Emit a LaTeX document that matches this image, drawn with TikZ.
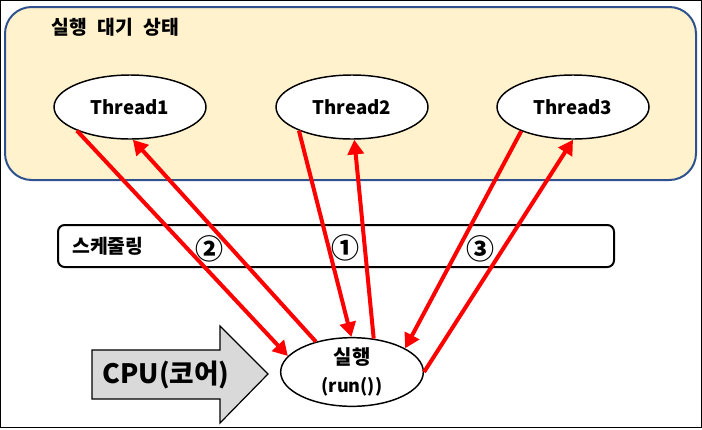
\documentclass[tikz,border=0pt]{standalone}
\usepackage{fontspec}
\setmainfont{Noto Sans CJK KR}
\usetikzlibrary{arrows.meta,positioning,shapes.geometric}
\definecolor{waitFill}{RGB}{255, 242, 204}
\definecolor{waitRule}{RGB}{47, 82, 143}
\definecolor{cpuGray}{RGB}{217, 217, 217}
\definecolor{flowRed}{RGB}{255, 0, 0}
\tikzset{
  waitbox/.style={draw=waitRule, fill=waitFill, line width=1.5pt, rounded corners=20pt},
  schedbox/.style={draw=black, line width=1.5pt, rounded corners=5pt},
  threadnode/.style={draw=black, fill=white, ellipse, line width=1.1pt, inner sep=0pt,
    minimum width=114pt, minimum height=48pt, font=\fontsize{14pt}{16pt}\selectfont\bfseries},
  runnode/.style={draw=black, fill=white, ellipse, line width=1.1pt, inner sep=0pt,
    minimum width=107pt, minimum height=48pt, align=center,
    font=\fontsize{13.5pt}{21pt}\selectfont\bfseries},
  titlelabel/.style={anchor=west, inner sep=0pt, font=\fontsize{14.5pt}{16pt}\selectfont\bfseries},
  steplabel/.style={font=\fontsize{21pt}{22pt}\selectfont\bfseries, inner sep=0pt},
  flow/.style={draw=flowRed, line width=3pt, -{Triangle[length=11pt, width=12pt]}}
}
\begin{document}
\begin{tikzpicture}[x=0.75pt, y=-0.75pt]
  \useasboundingbox (0,0) rectangle (702,429);
  \draw[line width=0.75pt] (0.5,0.5) rectangle (701.5,427.5);
  % waiting threads
  \draw[waitbox] (5,7) rectangle (696,180);
  \node[titlelabel] (waitlabel) at (51,27) {실행\hspace{0.55em}대기\hspace{0.55em}상태};
  \node[threadnode] (t1) at (130,107) {Thread1};
  \node[threadnode] (t2) at (352,107) {Thread2};
  \node[threadnode] (t3) at (573,107) {Thread3};
  % scheduler
  \draw[schedbox] (58,225) rectangle (614,267);
  \node[titlelabel] (schedlabel) at (72,246) {스케줄링};
  % cpu
  \draw[fill=cpuGray, line width=0.9pt] (92,350) -- (220,350) -- (220,326) -- (268,374)
    -- (220,423) -- (220,399) -- (92,399) -- cycle;
  \node[inner sep=0pt, font=\fontsize{20pt}{22pt}\selectfont\bfseries] (cpulabel) at (166,375) {CPU(코어)};
  \node[runnode] (run) at (352,372) {{\fontsize{15pt}{21pt}\selectfont 실행}\\(run())};
  % dispatch and return
  \draw[flow] (t2.204) -- (run.91);
  \draw[flow] (run.57) -- (t2.274);
  \draw[flow] (t1.204) -- (run.166);
  \draw[flow] (run.140) -- (t1.275);
  \draw[flow] (t3.205) -- (run.24);
  \draw[flow] (run.0) -- (t3.270);
  \node[steplabel] (n1) at (345,248) {①};
  \node[steplabel] (n2) at (209,249) {②};
  \node[steplabel] (n3) at (480,249) {③};
\end{tikzpicture}
\end{document}
